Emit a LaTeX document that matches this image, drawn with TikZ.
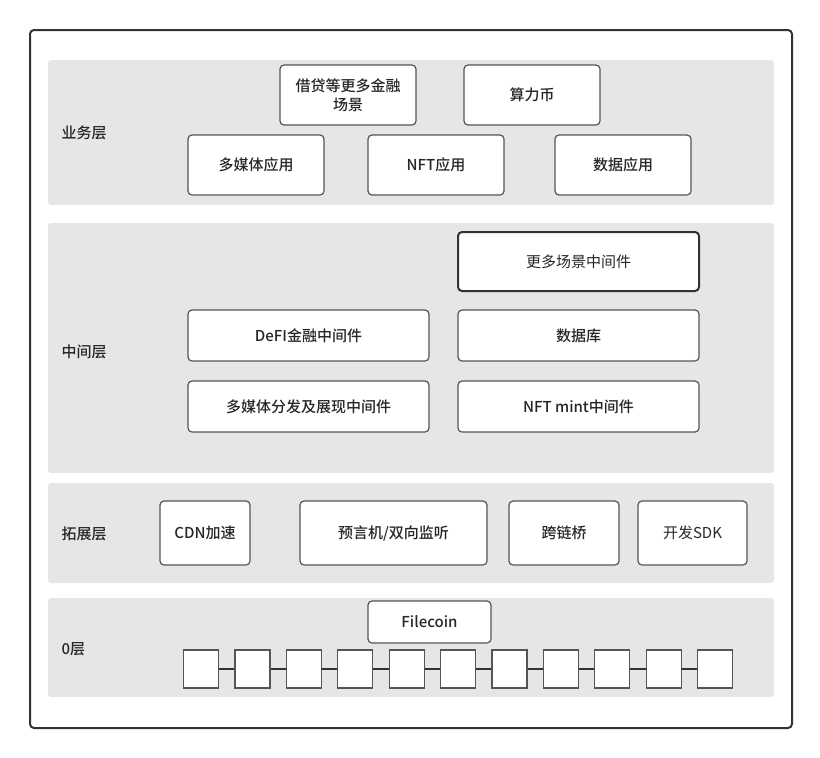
\documentclass[tikz,border=0pt]{standalone}
\usepackage{fontspec}
\setmainfont{Noto Sans CJK SC}[BoldFont={Noto Sans CJK SC Medium}]
\usetikzlibrary{calc}
\definecolor{layergray}{HTML}{E6E6E6}
\definecolor{boxline}{HTML}{555555}
\definecolor{framecol}{HTML}{333333}
\tikzset{
  layer/.style={fill=layergray,rounded corners=3pt},
  lname/.style={anchor=west,font=\bfseries\fontsize{15}{19}\selectfont,text=black!85},
  blk/.style={draw=boxline,fill=white,line width=1.2pt,rounded corners=4pt,
    inner sep=0pt,align=center,text=black!85,
    font=\bfseries\fontsize{15}{19}\selectfont},
  plainblk/.style={blk,font=\fontsize{15}{19}\selectfont},
  chainbox/.style={draw=boxline,fill=white,line width=1.2pt,
    minimum width=35pt,minimum height=38pt,inner sep=0pt}
}
\begin{document}
\begin{tikzpicture}[x=1pt,y=-1pt]
    \useasboundingbox (0,0) rectangle (820,758);
    \draw[framecol,line width=2pt,rounded corners=4pt] (30,30) rectangle (792,728);

    % layers
    \fill[layer] (48,60) rectangle (774,205);
    \fill[layer] (48,223) rectangle (774,473);
    \fill[layer] (48,483) rectangle (774,583);
    \fill[layer] (48,598) rectangle (774,697);
    \node[lname] (l1) at (58,133) {业务层};
    \node[lname] (l2) at (58,352) {中间层};
    \node[lname] (l3) at (58,534) {拓展层};
    \node[lname] (l4) at (58,649) {0层};

    % business layer
    \node[blk,minimum width=136pt,minimum height=60pt] (jiedai) at (348,95) {借贷等更多金融\\场景};
    \node[blk,minimum width=136pt,minimum height=60pt] (suanli) at (532,95) {算力币};
    \node[blk,minimum width=136pt,minimum height=60pt] (media) at (256,165) {多媒体应用};
    \node[blk,minimum width=136pt,minimum height=60pt] (nftapp) at (436,165) {NFT应用};
    \node[blk,minimum width=136pt,minimum height=60pt] (dataapp) at (623,165) {数据应用};

    % middle layer
    \node[plainblk,draw=framecol,line width=2pt,minimum width=241pt,minimum height=59pt] (moremid) at (578.5,261.5) {更多场景中间件};
    \node[blk,minimum width=241pt,minimum height=51pt] (defi) at (308.5,335.5) {DeFI金融中间件};
    \node[blk,minimum width=241pt,minimum height=51pt] (db) at (578.5,335.5) {数据库};
    \node[blk,minimum width=241pt,minimum height=51pt] (mediamid) at (308.5,406.5) {多媒体分发及展现中间件};
    \node[blk,minimum width=241pt,minimum height=51pt] (nftmint) at (578.5,406.5) {NFT mint中间件};

    % extension layer
    \node[blk,minimum width=90pt,minimum height=64pt] (cdn) at (205,533) {CDN加速};
    \node[blk,minimum width=187pt,minimum height=64pt] (oracle) at (393.5,533) {预言机/双向监听};
    \node[blk,minimum width=110pt,minimum height=64pt] (bridge) at (564,533) {跨链桥};
    \node[plainblk,minimum width=109pt,minimum height=64pt] (sdk) at (692.5,533) {开发SDK};

    % layer 0
    \node[blk,minimum width=123pt,minimum height=42pt] (filecoin) at (429.5,622) {Filecoin};
    \foreach \i in {0,...,10}
        \node[chainbox] (b\i) at ({201+51.4*\i},669) {};
    \foreach \i [evaluate=\i as \j using int(\i+1)] in {0,...,9}
        \draw[framecol,line width=1.6pt] (b\i.east) -- (b\j.west);
\end{tikzpicture}
\end{document}
